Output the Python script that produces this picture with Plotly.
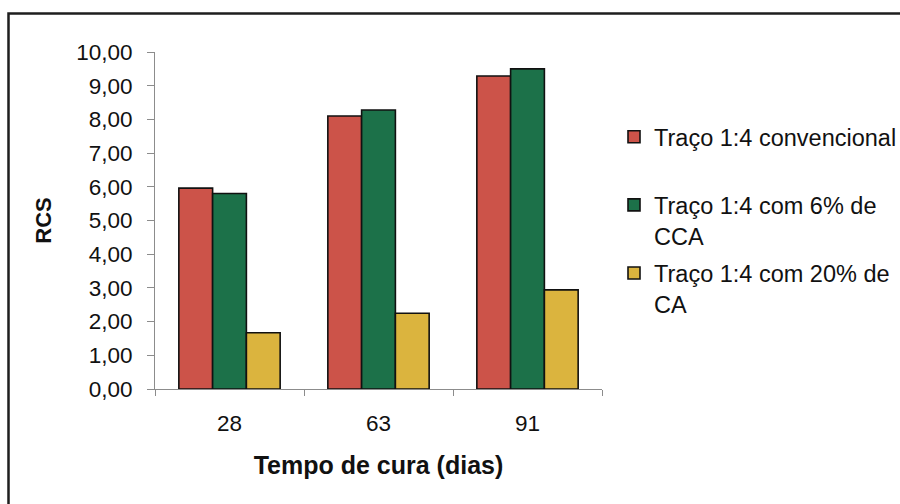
import plotly.graph_objects as go

# Curing time (days) and compressive strength (RCS) per mix
categorias = ["28", "63", "91"]
series_nomes = [
    "Traço 1:4 convencional<br> ",
    "Traço 1:4 com 6% de<br>CCA",
    "Traço 1:4 com 20% de<br>CA",
]
rcs_convencional = [5.96, 8.10, 9.29]
rcs_6_cca = [5.80, 8.28, 9.50]
rcs_20_ca = [1.67, 2.25, 2.94]
y_ticks = [0, 1, 2, 3, 4, 5, 6, 7, 8, 9, 10]
y_tick_labels = ["0,00", "1,00", "2,00", "3,00", "4,00", "5,00",
                 "6,00", "7,00", "8,00", "9,00", "10,00"]

cores = ["#cc5349", "#1c7149", "#dbb43e"]
valores = [rcs_convencional, rcs_6_cca, rcs_20_ca]

FONT = "Liberation Sans, Arial, sans-serif"

fig = go.Figure()
for i, (nome, vals, cor) in enumerate(zip(series_nomes, valores, cores)):
    fig.add_trace(go.Bar(
        x=categorias, y=vals, name=nome, legendgroup=f"g{i}",
        marker=dict(color=cor, line=dict(color="#111111", width=1.6)),
    ))

# plot area geometry (px) used to place the outer frame
L, R, T, B = 155, 602, 52, 389
W, H = R - L, B - T

def px_x(px):
    return (px - L) / W

def px_y(py):
    return (B - py) / H

fig.update_layout(
    width=900, height=504,
    margin=dict(l=L, r=900 - R, t=T, b=504 - B),
    paper_bgcolor="white", plot_bgcolor="white",
    barmode="group", bargap=0.32, bargroupgap=0.0,
    font=dict(family=FONT, size=22, color="#111111"),
    showlegend=True,
    legend=dict(
        xref="container", yref="container",
        x=614 / 900, y=1 - 115 / 504, xanchor="left", yanchor="top",
        font=dict(family=FONT, size=23.5, color="#111111"),
        valign="top", tracegroupgap=4, itemwidth=30,
        bgcolor="rgba(0,0,0,0)",
    ),
    xaxis=dict(
        range=[-0.5, 2.5], showline=True, linecolor="#8c8c8c", linewidth=1,
        ticks="outside", tickson="boundaries", ticklen=6, tickcolor="#8c8c8c",
        ticklabelstandoff=14, showgrid=False, zeroline=False,
        tickfont=dict(size=22.5),
        title=dict(text="<b>Tempo de cura (dias)</b>", font=dict(size=25), standoff=21),
        automargin=True,
    ),
    yaxis=dict(
        range=[0, 10], tickvals=y_ticks, ticktext=y_tick_labels,
        showline=True, linecolor="#8c8c8c", linewidth=1,
        ticks="outside", ticklen=7, tickcolor="#8c8c8c",
        ticklabelstandoff=10, showgrid=False, zeroline=False,
        tickfont=dict(size=22.5),
        title=dict(text="<b>RCS</b>", font=dict(size=22), standoff=18),
        automargin=True,
    ),
)

# outer chart frame (left and top edges visible)
fig.add_shape(
    type="rect", xref="paper", yref="paper",
    x0=px_x(8.5), x1=px_x(915), y0=px_y(520), y1=px_y(13.5),
    line=dict(color="#1e1e1e", width=2.5), fillcolor="rgba(0,0,0,0)", layer="below",
)

fig.write_html("out.html")
